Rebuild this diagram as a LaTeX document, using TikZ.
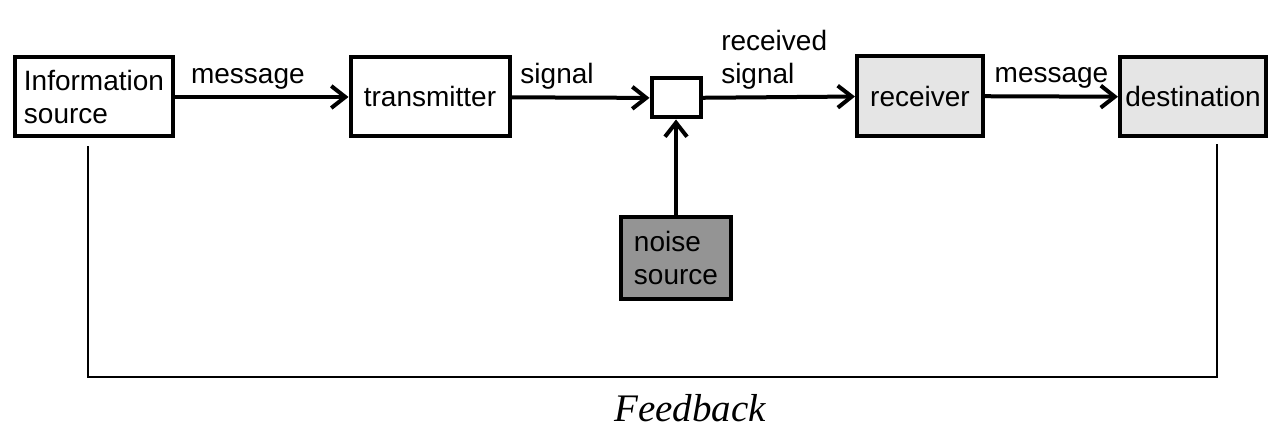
\documentclass[tikz,border=0pt]{standalone}
\usepackage{fontspec}
\setmainfont{Liberation Sans}
\newfontfamily\fbfont{Liberation Serif}
\usepackage{tikz}
\usetikzlibrary{arrows.meta,positioning,calc}

\begin{document}
\begin{tikzpicture}[
    x = 0.5pt, y = -0.5pt,
    every node/.style = {font=\fontsize{14}{16.5}\selectfont},
    block/.style = {draw, line width=2pt, align=left, inner sep=2pt},
    link/.style = {line width=2pt, -{Straight Barb[length=7pt,width=11pt]}},
    lbl/.style = {above=2pt, inner sep=1pt, align=left},
    fbline/.style = {line width=1pt, shorten <=4pt, shorten >=3pt}
  ]
  \useasboundingbox (0,0) rectangle (1274,431);
  \node[block, minimum width=79pt, minimum height=39.5pt] (info) at (94,97) {Information\\source};
  \node[block, minimum width=79.5pt, minimum height=39.5pt] (trans) at (430,97) {transmitter};
  \node[block, minimum width=24.5pt, minimum height=19.5pt] (junc) at (676,98) {};
  \node[block, fill=black!10, minimum width=63pt, minimum height=40pt] (recv) at (920,96) {receiver};
  \node[block, fill=black!10, minimum width=73pt, minimum height=39.5pt] (dest) at (1193,97) {destination};
  \node[block, fill=black!42, minimum width=55pt, minimum height=41pt] (noise) at (676,258) {noise\\source};
  \draw[link] (info) -- node[lbl, pos=0.42] (msga) {message} (trans);
  \draw[link] (trans) -- node[lbl, pos=0.33] (sig) {signal} (junc);
  \draw[link] (junc) -- node[lbl, pos=0.47] (rsig) {received\\signal} (recv);
  \draw[link] (recv) -- node[lbl, pos=0.5] (msgb) {message} (dest);
  \draw[link] (noise) -- (junc);
  \coordinate (fbl) at (88,377);
  \coordinate (fbr) at (1217,377);
  \draw[fbline] (info.south -| fbl) -- (fbl) -- (fbr) -- (dest.south -| fbr);
  \node[font=\fbfont\itshape\fontsize{19.5}{22}\selectfont] (fbtext) at (690,408) {Feedback};
\end{tikzpicture}
\end{document}
